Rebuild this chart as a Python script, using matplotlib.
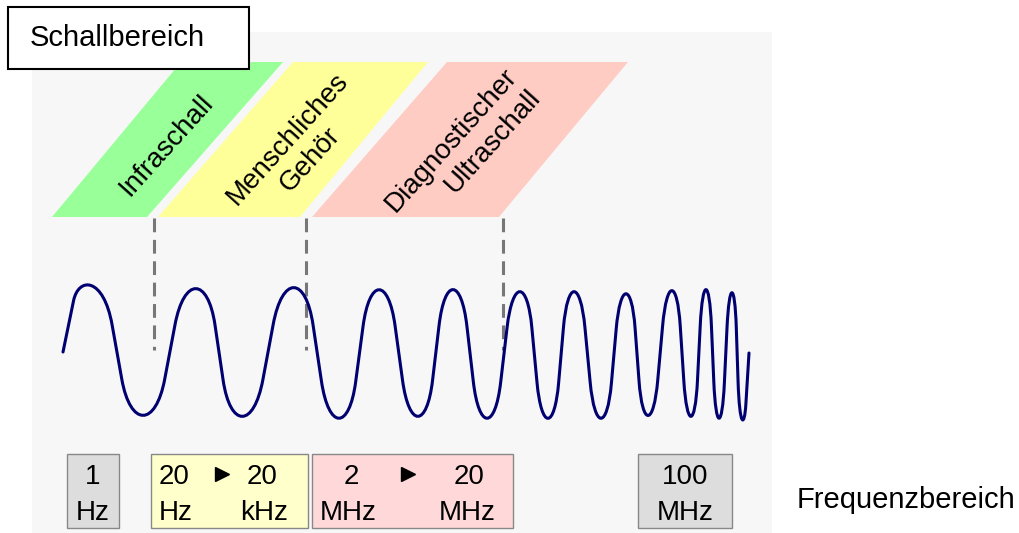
import matplotlib.pyplot as plt
from matplotlib.patches import Polygon, Rectangle, PathPatch
from matplotlib.path import Path

plt.rcParams['font.family'] = ['Liberation Sans', 'DejaVu Sans']

title = 'Schallbereich'
axis_label = 'Frequenzbereich'

# sound ranges (slanted bands)
band_labels = ['Infraschall', 'Menschliches\nGehör', 'Diagnostischer\nUltraschall']
band_align = ['center', 'center', 'right']
band_colors = ['#99ff99', '#ffff99', '#ffccc4']
band_bottom = [(52, 147), (158, 300), (312, 499)]
band_top = [(181, 283), (293, 428), (447, 628)]
band_text_pos = [(167, 145), (299, 149), (463, 151)]
divider_x = [154, 306, 503]

# wave: start, extrema, end (pixel positions)
wave_x = [63, 91, 143, 196, 242, 294, 339, 379, 418, 453, 487, 520, 548,
          574, 601, 626, 648, 672, 691, 706, 719, 732, 742, 749]
wave_y = [352, 287, 417, 287, 418, 286, 420, 288, 418, 288, 420, 290, 420,
          290, 420, 292, 417, 289, 418, 288, 420, 291, 418, 353]

# frequency boxes
box_left = [67, 151, 312, 638]
box_right = [119, 308, 513, 732]
box_colors = ['#dddddd', '#ffffcc', '#ffd9d9', '#dddddd']
box_top_text = [[('1', 93)], [('20', 174), ('20', 262)], [('2', 351), ('20', 469)], [('100', 685)]]
box_bottom_text = [[('Hz', 93)], [('Hz', 176), ('kHz', 264)], [('MHz', 348), ('MHz', 467)], [('MHz', 685)]]
box_arrow_x = [None, 222, 408, None]

fig = plt.figure(figsize=(10.2, 5.33), dpi=100)
ax = fig.add_axes([0, 0, 1, 1])
ax.set_xlim(0, 1020)
ax.set_ylim(533, 0)
ax.axis('off')

# light background panel
ax.add_patch(Rectangle((32, 32), 740, 510, facecolor='#f7f7f7', edgecolor='none', zorder=0))

# title box
ax.add_patch(Rectangle((8, 7), 241, 62, facecolor='white', edgecolor='black', lw=1.5, zorder=3))
ax.text(30, 38, title, fontsize=21, va='center', ha='left', zorder=4)

# bands
for lab, al, col, (bl, br), (tl, tr), (tx, ty) in zip(band_labels, band_align, band_colors,
                                                      band_bottom, band_top, band_text_pos):
    ax.add_patch(Polygon([(bl, 217), (br, 217), (tr, 62), (tl, 62)], closed=True,
                         facecolor=col, edgecolor='none', zorder=1))
    ax.text(tx, ty, lab, fontsize=20, rotation=48, rotation_mode='anchor',
            ha='center', va='center', multialignment=al, linespacing=1.25, zorder=2)

for x in divider_x:
    ax.plot([x, x], [218, 350], color='#777777', lw=2.2, ls=(0, (4.5, 2.5)), zorder=2)

# wave: trapezoid-like shape with rounded caps at each extremum
f, t = 0.24, 0.32
n = len(wave_x)
corners = []
for i in range(1, n - 1):
    gaps = []
    if i > 1:
        gaps.append(wave_x[i] - wave_x[i - 1])
    if i < n - 2:
        gaps.append(wave_x[i + 1] - wave_x[i])
    w = f * sum(gaps) / len(gaps)
    amp = wave_y[i + 1 if i < n - 2 else i - 1] - wave_y[i]
    yt = wave_y[i] - 0.25 * t * amp
    corners.append(((wave_x[i] - w, yt), (wave_x[i] + w, yt)))

start = (wave_x[0], wave_y[0])
end = (wave_x[-1], wave_y[-1])
verts = [start]
codes = [Path.MOVETO]
for j, (A, B) in enumerate(corners):
    prev = corners[j - 1][1] if j > 0 else start
    nxt = corners[j + 1][0] if j < len(corners) - 1 else end
    P = (A[0] + t * (prev[0] - A[0]), A[1] + t * (prev[1] - A[1]))
    Q = (B[0] + t * (nxt[0] - B[0]), B[1] + t * (nxt[1] - B[1]))
    verts += [P, A, B, Q]
    codes += [Path.LINETO, Path.CURVE4, Path.CURVE4, Path.CURVE4]
verts.append(end)
codes.append(Path.LINETO)
ax.add_patch(PathPatch(Path(verts, codes), facecolor='none', edgecolor='#000070', lw=2.2,
                       capstyle='round', joinstyle='round', zorder=3))

# frequency boxes
for l, r, col, tops, bots, ax_x in zip(box_left, box_right, box_colors, box_top_text, box_bottom_text, box_arrow_x):
    ax.add_patch(Rectangle((l, 454), r - l, 74, facecolor=col, edgecolor='#888888', lw=1.0, zorder=2))
    for s, x in tops:
        ax.text(x, 477, s, fontsize=20, ha='center', va='center', zorder=3)
    for s, x in bots:
        ax.text(x, 513, s, fontsize=20, ha='center', va='center', zorder=3)
    if ax_x is not None:
        ax.plot(ax_x, 474, marker='>', color='black', ms=10, zorder=3)

ax.text(797, 500, axis_label, fontsize=21, ha='left', va='center')

fig.savefig('out.png', dpi=100)
